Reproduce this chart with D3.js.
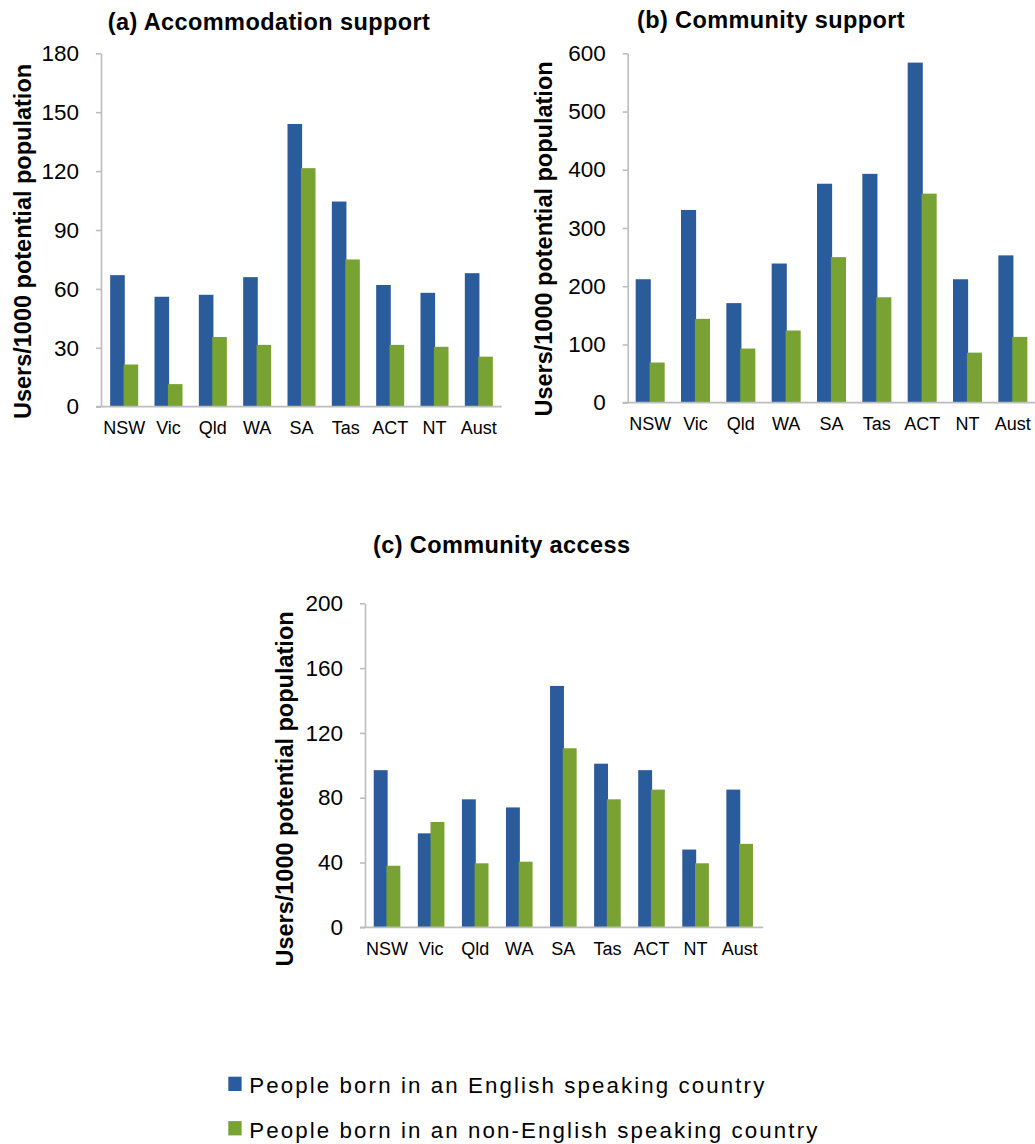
<!DOCTYPE html>
<html>
<head>
<meta charset="utf-8">
<script src="https://cdn.jsdelivr.net/npm/d3@7"></script>
<style>
  html, body { margin: 0; padding: 0; background: #fff; }
  svg { display: block; }
  text { font-family: "Liberation Sans", Arial, sans-serif; fill: #000; }
</style>
</head>
<body>
<svg id="chart" width="1035" height="1144"></svg>
<script>
// ---------- DATA ----------
const categories = ["NSW", "Vic", "Qld", "WA", "SA", "Tas", "ACT", "NT", "Aust"];
const seriesNames = ["People born in an English speaking country", "People born in an non-English speaking country"];

const accomEnglish    = [67, 56, 57, 66, 144, 104.5, 62, 58, 68];
const accomNonEnglish = [21.5, 11.5, 35.5, 31.5, 121.5, 75, 31.5, 30.5, 25.5];

const supportEnglish    = [212, 331, 171, 239, 376, 393, 584, 212, 253];
const supportNonEnglish = [69, 144, 93, 124, 250, 181, 359, 86, 113];

const accessEnglish    = [97, 58, 79, 74, 149, 101, 97, 48, 85];
const accessNonEnglish = [38, 65, 39.5, 40.5, 110.5, 79, 85, 39.5, 51.5];

const accomTicks   = [0, 30, 60, 90, 120, 150, 180];
const supportTicks = [0, 100, 200, 300, 400, 500, 600];
const accessTicks  = [0, 40, 80, 120, 160, 200];

const titles = ["(a) Accommodation support", "(b) Community support", "(c) Community access"];
const yTitle = "Users/1000 potential population";

// ---------- STYLE / LAYOUT ----------
const colors = ["#2a5b9b", "#78a232"];
const axisColor = "#bdbdbd";

const panels = [
  { title: titles[0], eng: accomEnglish, non: accomNonEnglish, ticks: accomTicks,
    axisX: 101, xEnd: 501.7, bandStart: 102, bandEnd: 501, y0: 406.7, yTop: 53.3, barW: 14,
    titleX: 269, titleY: 29.5, yTitleX: 31, yTitleY: 241.5 },
  { title: titles[1], eng: supportEnglish, non: supportNonEnglish, ticks: supportTicks,
    axisX: 627.7, xEnd: 1035, bandStart: 627.5, bandEnd: 1035.5, y0: 402.7, yTop: 53.3, barW: 14.5,
    titleX: 771, titleY: 28, yTitleX: 552, yTitleY: 239 },
  { title: titles[2], eng: accessEnglish, non: accessNonEnglish, ticks: accessTicks,
    axisX: 365, xEnd: 763.3, bandStart: 365, bandEnd: 761.7, y0: 927.3, yTop: 603.3, barW: 13.3,
    titleX: 501.7, titleY: 553, yTitleX: 293, yTitleY: 789 }
];

const svg = d3.select("#chart");
svg.append("rect").attr("width", 1035).attr("height", 1144).attr("fill", "#fff");

panels.forEach(p => {
  const g = svg.append("g");
  const x = d3.scaleBand().domain(categories).range([p.bandStart, p.bandEnd]).padding(0);
  const y = d3.scaleLinear().domain([0, d3.max(p.ticks)]).range([p.y0, p.yTop]);

  // Y axis
  const yAxis = g.append("g")
    .attr("transform", `translate(${p.axisX},0)`)
    .call(d3.axisLeft(y).tickValues(p.ticks).tickSize(5).tickSizeOuter(0).tickPadding(17));
  yAxis.select(".domain").attr("stroke", axisColor).attr("stroke-width", 1.6);
  yAxis.selectAll(".tick line").attr("stroke", axisColor).attr("stroke-width", 1.6);
  yAxis.selectAll(".tick text").attr("font-size", 22.5)
    .attr("font-family", '"Liberation Sans", Arial, sans-serif').attr("fill", "#000");

  // Bars
  const series = [p.eng, p.non];
  series.forEach((vals, si) => {
    g.append("g").selectAll("rect")
      .data(categories.map((c, i) => ({ c, v: vals[i] })))
      .join("rect")
      .attr("x", d => {
        const cx = x(d.c) + x.bandwidth() / 2;
        return si === 0 ? cx - p.barW : cx - 0.6;
      })
      .attr("width", p.barW + 0.6)
      .attr("y", d => y(d.v))
      .attr("height", d => y(0) - y(d.v))
      .attr("fill", colors[si]);
  });

  // X axis baseline
  g.append("line")
    .attr("x1", p.axisX - 5).attr("x2", p.xEnd)
    .attr("y1", y(0)).attr("y2", y(0))
    .attr("stroke", axisColor).attr("stroke-width", 1.8);

  const xAxis = g.append("g")
    .attr("transform", `translate(0,${y(0)})`)
    .call(d3.axisBottom(x).tickSize(0).tickPadding(14.5));
  xAxis.select(".domain").remove();
  xAxis.selectAll(".tick text").attr("font-size", 18)
    .attr("font-family", '"Liberation Sans", Arial, sans-serif').attr("fill", "#000");

  // Title
  g.append("text")
    .attr("x", p.titleX).attr("y", p.titleY)
    .attr("text-anchor", "middle")
    .attr("font-size", 23.5).attr("font-weight", "bold")
    .attr("letter-spacing", 0.4)
    .text(p.title);

  // Y title
  g.append("text")
    .attr("transform", `translate(${p.yTitleX},${p.yTitleY}) rotate(-90)`)
    .attr("text-anchor", "middle")
    .attr("font-size", 23.5).attr("font-weight", "bold")
    .text(yTitle);
});

// Legend
const legend = svg.append("g");
const legendRows = [1093.3, 1137.7];
seriesNames.forEach((name, i) => {
  legend.append("rect")
    .attr("x", 228.3).attr("y", legendRows[i] - 16.6)
    .attr("width", 13.3).attr("height", 14.3)
    .attr("fill", colors[i]);
  legend.append("text")
    .attr("x", 249.3).attr("y", legendRows[i])
    .attr("font-size", 22.3)
    .attr("letter-spacing", 2.1)
    .text(name);
});
</script>
</body>
</html>
